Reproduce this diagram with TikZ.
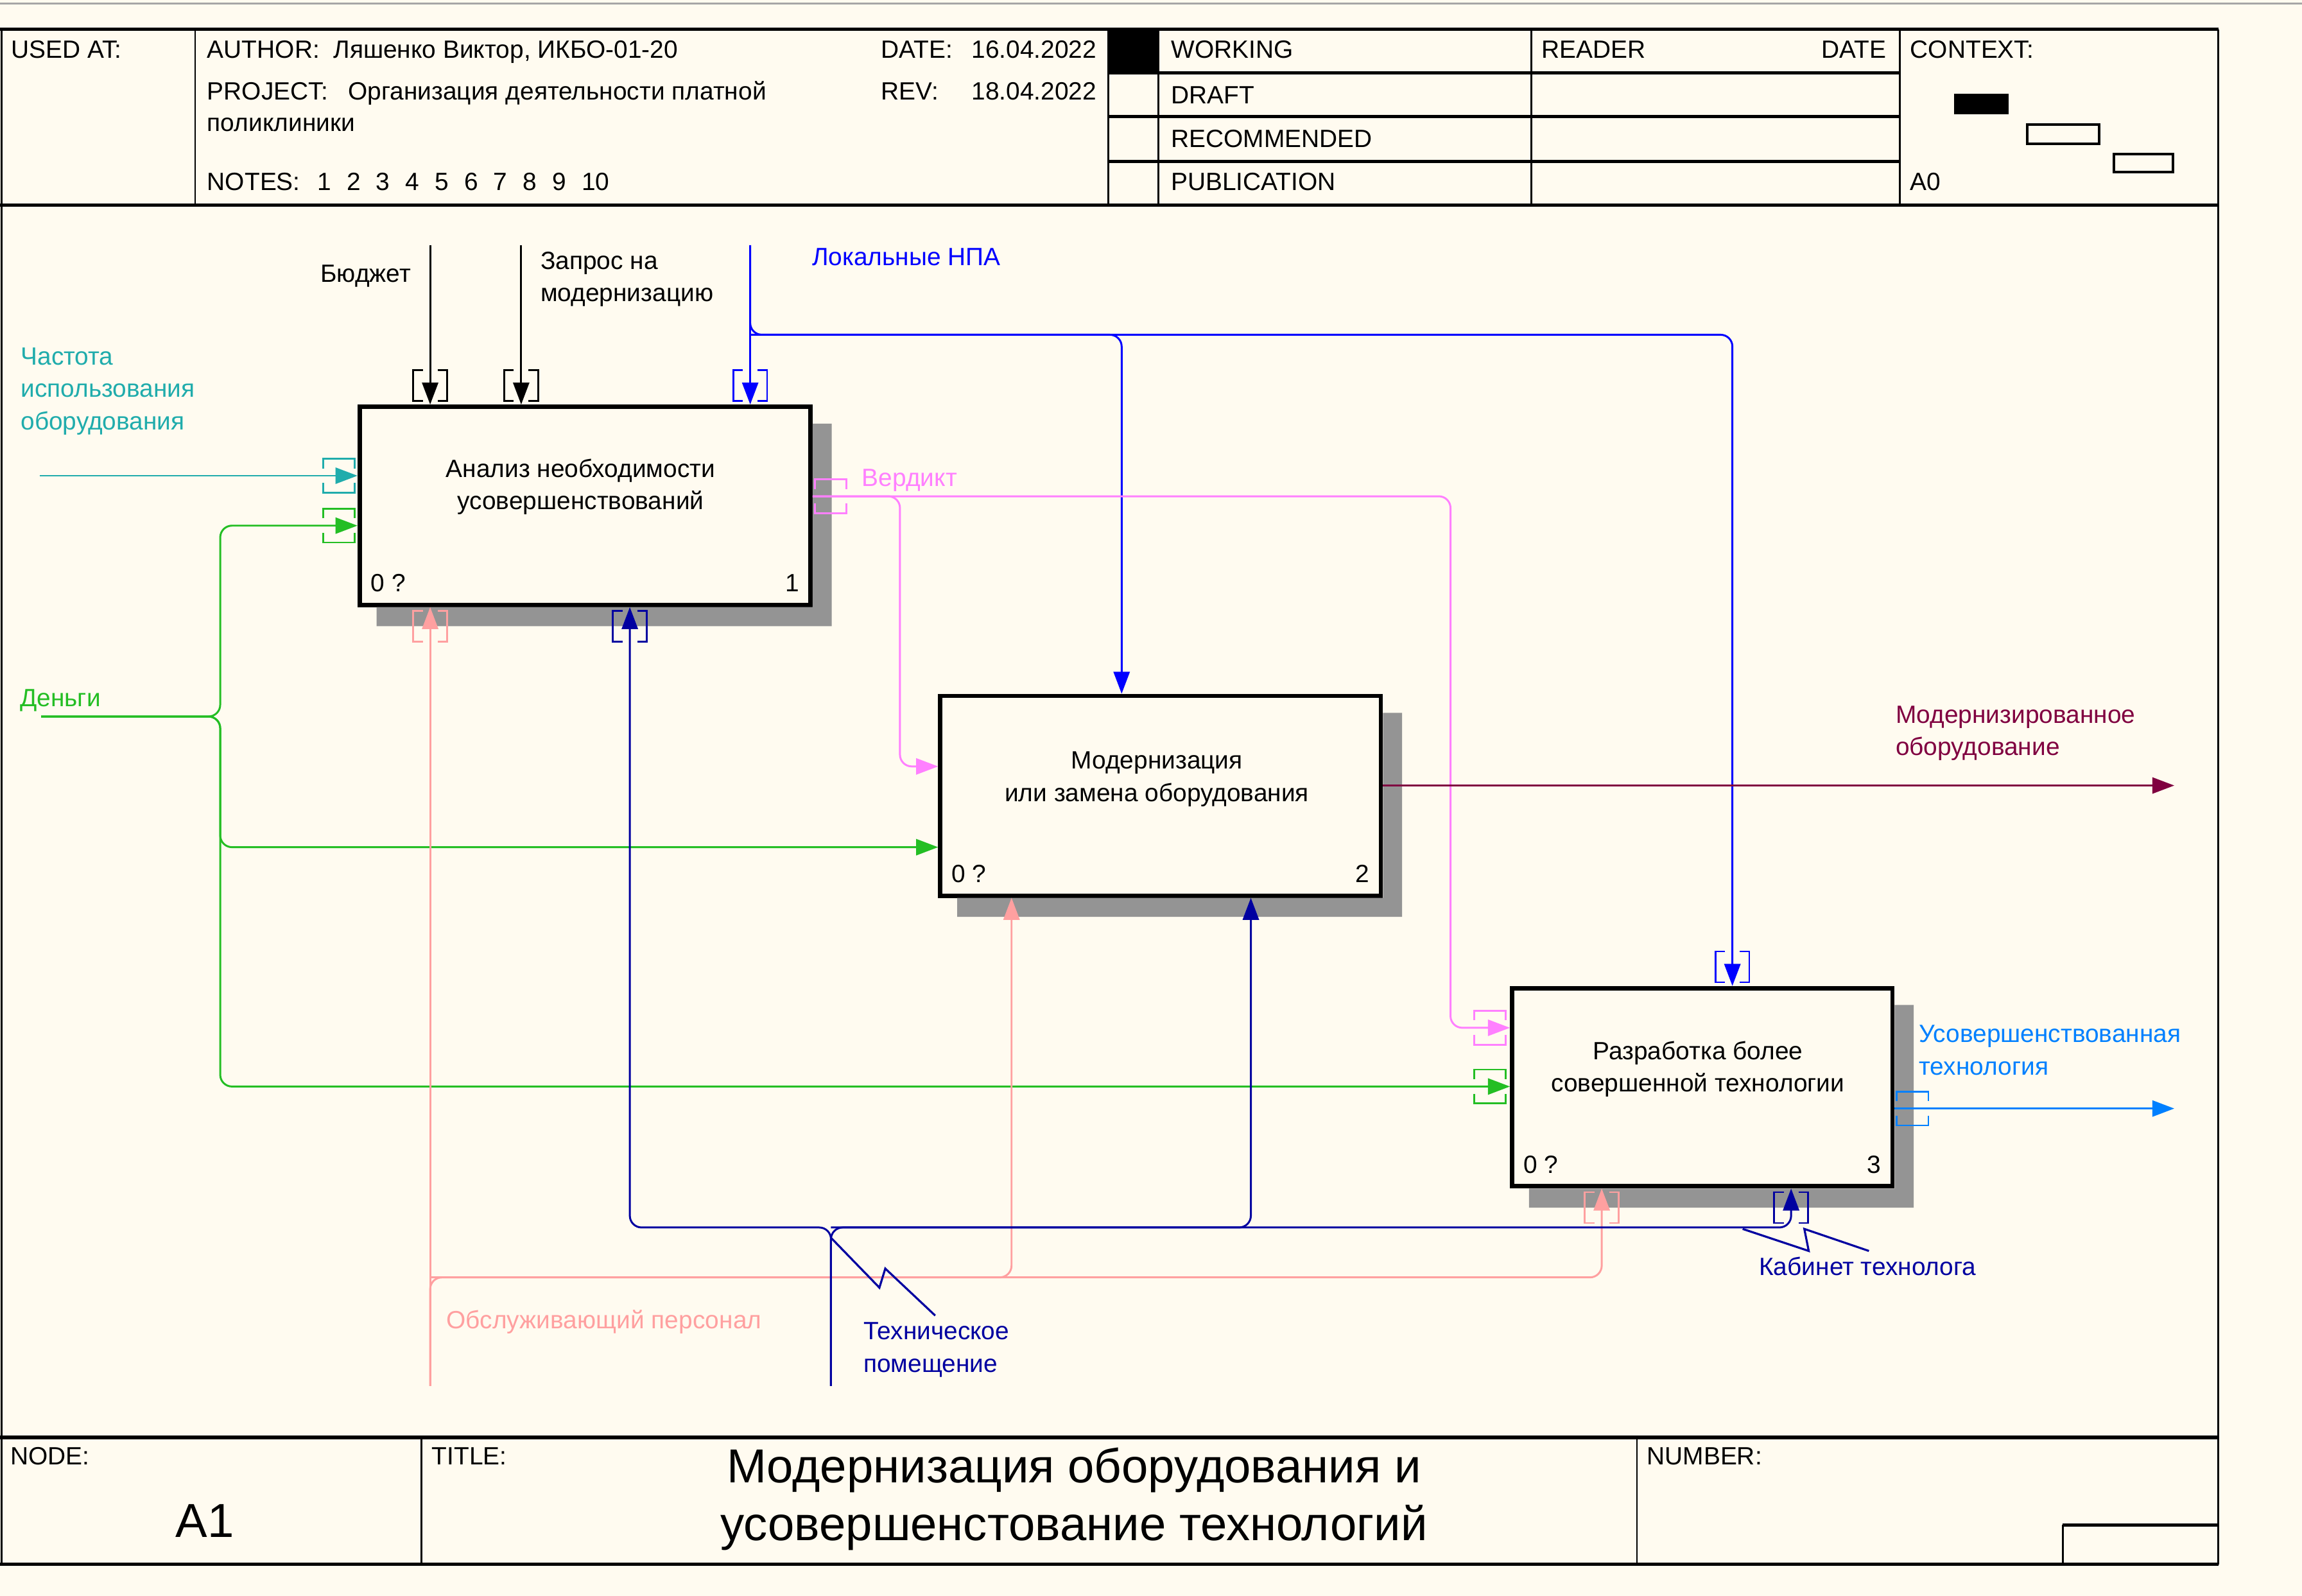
\documentclass[tikz,border=0pt]{standalone}
\usepackage{fontspec}
\setmainfont{Liberation Sans}
\usetikzlibrary{arrows.meta}
\definecolor{paper}{RGB}{255,251,240}
\definecolor{cteal}{RGB}{32,172,172}
\definecolor{cgreen}{RGB}{36,190,36}
\definecolor{cblue}{RGB}{0,0,255}
\definecolor{cviolet}{RGB}{255,128,255}
\definecolor{cmaroon}{RGB}{128,0,64}
\definecolor{cdodger}{RGB}{0,128,255}
\definecolor{csalmon}{RGB}{255,160,160}
\definecolor{cnavy}{RGB}{0,0,160}
\begin{document}
\begin{tikzpicture}[x=1pt, y=-1pt,
	lbl/.style={ font=\fontsize{17}{22}\selectfont, inner sep=0pt, anchor=base west, align=left },
	big/.style={ font=\fontsize{32.5}{39}\selectfont, inner sep=0pt, anchor=base, align=center },
	func/.style={ draw, line width=3pt, fill=paper, inner sep=0pt },
	boxshadow/.style={ fill=black!42 },
	arr/.style={ line width=1.3pt, -{Triangle[length=15pt,width=11pt]} },
	link/.style={ rounded corners=8pt },
	tunnel/.style={ line width=1.2pt },
	squig/.style={ line width=1.4pt },
	rulethick/.style={ line width=2.2pt },
	rulethin/.style={ line width=1.1pt }
]

\fill[paper] (0,0) rectangle (1568,1087);
\useasboundingbox (0,0) rectangle (1568,1087);
\draw[gray!70, line width=1.5pt] (0,2.5) -- (1568,2.5);

% frame
\draw[rulethin] (1,20) -- (1,1065.5);
\draw[rulethin] (1511,20) -- (1511,1065.5);
\foreach \y in {20,139.5,979,1065.5} \draw[rulethick] (0,\y) -- (1511,\y);
\foreach \x in {133,755,789,1043,1294} \draw[rulethin] (\x,20) -- (\x,139.5);
\foreach \y in {49.5,79.5,110} \draw[rulethick] (755,\y) -- (1294,\y);
\fill (755,20) rectangle (789,49.5);
\foreach \x in {287,1115} \draw[rulethin] (\x,979) -- (\x,1065.5);
\draw[rulethin] (1405,1065.5) -- (1405,1038.5);
\draw[rulethick] (1405,1038.5) -- (1511,1038.5);
\fill (1331,64) rectangle (1368,78);
\draw[line width=1.8pt] (1381,85) rectangle (1430,98);
\draw[line width=1.8pt] (1440,105) rectangle (1480,117);

\node[lbl] (usedat) at (7.5,39.7) {USED AT:};
\node[lbl] (author) at (141,39.7) {AUTHOR:};
\node[lbl] (authorname) at (227,39.7) {Ляшенко Виктор, ИКБО-01-20};
\node[lbl] (project) at (141,67.8) {PROJECT:};
\node[lbl] (projectname) at (237,67.8) {Организация деятельности платной};
\node[lbl] (projectname2) at (141,89.6) {поликлиники};
\node[lbl] (date) at (600,39.7) {DATE:};
\node[lbl] (dateval) at (661.6,39.7) {16.04.2022};
\node[lbl] (rev) at (600,67.8) {REV:};
\node[lbl] (revval) at (661.6,67.8) {18.04.2022};
\node[lbl] (notes) at (141,129.8) {NOTES:};
\foreach \n in {1,...,10} \node[lbl] (note\n) at (196+20*\n,129.8) {\n};

\node[lbl] (working) at (797.5,39.7) {WORKING};
\node[lbl] (draft) at (797.5,70.7) {DRAFT};
\node[lbl] (recommended) at (797.5,100.3) {RECOMMENDED};
\node[lbl] (publication) at (797.5,129.7) {PUBLICATION};
\node[lbl] (reader) at (1050,39.7) {READER};
\node[lbl, anchor=base east] (readerdate) at (1285,39.7) {DATE};
\node[lbl] (context) at (1301,39.7) {CONTEXT:};
\node[lbl] (ctxnode) at (1301,129.7) {A0};

\node[lbl] (nodelbl) at (7,997.4) {NODE:};
\node[lbl] (titlelbl) at (294,997.4) {TITLE:};
\node[lbl] (numberlbl) at (1121.6,997.4) {NUMBER:};
\node[big] (nodeno) at (139.5,1047) {A1};
\node[big] (title) at (731.5,1049) {Модернизация оборудования и\\усовершенстование технологий};

% function boxes
\node[func, minimum width=307pt, minimum height=135pt] (b1) at (398.5,344.5) {};
\node[func, minimum width=300pt, minimum height=136pt] (b2) at (790.5,542) {};
\node[func, minimum width=259pt, minimum height=135pt] (b3) at (1159.5,740.5) {};

\foreach \b in {b1,b2,b3}
	\fill[boxshadow] ([shift={(0,13)}]\b.north east) -| ([shift={(13,13)}]\b.south east) -| ([shift={(13,0)}]\b.south west) -- (\b.south east) -- cycle;

\node[lbl, anchor=base, align=center] (b1text) at (395.5,347) {Анализ необходимости\\усовершенствований};
\node[lbl, anchor=base, align=center] (b2text) at (788,545.8) {Модернизация\\или замена оборудования};
\node[lbl, anchor=base, align=center] (b3text) at (1156.5,743.6) {Разработка более\\совершенной технологии};
\foreach \b/\n in {b1/1,b2/2,b3/3} {
	\node[lbl] (\b-cost) at ([shift={(9,-10.5)}]\b.south west) {0 ?};
	\node[lbl, anchor=base east] (\b-num) at ([shift={(-9,-10.5)}]\b.south east) {\n};
}

% controls
\coordinate (budgetin) at (293,167);
\coordinate (requestin) at (355,167);
\coordinate (npain) at (511,167);
\coordinate (npaturn) at (511,228);
\coordinate (npa2) at (764,228);
\coordinate (npa3) at (1180,228);
\draw[arr] (budgetin) -- (budgetin |- b1.north);
\draw[arr] (requestin) -- (requestin |- b1.north);
\draw[arr, cblue] (npain) -- (npain |- b1.north);
\draw[arr, link, cblue] (npain) -- (npaturn) -- (npa3) -- (npa3 |- b3.north);
\draw[arr, link, cblue] (npaturn) -- (npa2) -- (npa2 |- b2.north);

% inputs
\coordinate (freqin) at (27,324);
\draw[arr, cteal] (freqin) -- (freqin -| b1.west);
\coordinate (moneyin) at (28,488);
\coordinate (moneyturn) at (150,488);
\coordinate (money1) at (150,358);
\coordinate (money2) at (150,577);
\coordinate (money3) at (150,740);
\foreach \m/\b in {money1/b1,money2/b2,money3/b3}
	\draw[arr, link, cgreen] (moneyin) -- (moneyturn) -- (\m) -- (\m -| \b.west);

% outputs
\coordinate (verdict1) at (613,338);
\coordinate (verdict1b) at (613,522);
\coordinate (verdict2) at (988,338);
\coordinate (verdict2b) at (988,700);
\draw[arr, link, cviolet] (b1.east |- verdict1) -- (verdict1) -- (verdict1b) -- (verdict1b -| b2.west);
\draw[arr, link, cviolet] (b1.east |- verdict2) -- (verdict2) -- (verdict2b) -- (verdict2b -| b3.west);
\coordinate (modout) at (1481,535);
\draw[arr, cmaroon] (b2.east |- modout) -- (modout);
\coordinate (techout) at (1481,755);
\draw[arr, cdodger] (b3.east |- techout) -- (techout);

% mechanisms
\coordinate (staffin) at (293,944);
\coordinate (staffturn) at (293,870);
\coordinate (staff2) at (689,870);
\coordinate (staff3) at (1091,870);
\draw[arr, csalmon] (staffin) -- (staffin |- b1.south);
\draw[arr, link, csalmon] (staffin) -- (staffturn) -- (staff3) -- (staff3 |- b3.south);
\draw[arr, link, csalmon] (staffturn) -- (staff2) -- (staff2 |- b2.south);

\coordinate (roomin) at (566,944);
\coordinate (roomturn) at (566,836);
\coordinate (room1) at (429,836);
\coordinate (room2) at (852,836);
\coordinate (room3) at (1220,836);
\draw[arr, link, cnavy] (roomin) -- (roomturn) -- (room1) -- (room1 |- b1.south);
\draw[arr, link, cnavy] (roomin) -- (roomturn) -- (room3) -- (room3 |- b3.south);
\draw[arr, link, cnavy] (roomturn) -- (room2) -- (room2 |- b2.south);

% tunnel brackets
\foreach \x/\ya/\c in {293/252/black,355/252/black,511/252/cblue,1180/648/cblue,293/416/csalmon,429/416/cnavy,1091/812/csalmon,1220/812/cnavy}
	\draw[tunnel, \c] (\x-5,\ya) -- (\x-11.5,\ya) -- (\x-11.5,\ya+21) -- (\x-5,\ya+21)
		(\x+5,\ya) -- (\x+11.5,\ya) -- (\x+11.5,\ya+21) -- (\x+5,\ya+21);
\foreach \y/\xa/\c in {324/220/cteal,358/220/cgreen,338/555/cviolet,700/1004/cviolet,740/1004/cgreen,755/1292/cdodger}
	\draw[tunnel, \c] (\xa,\y-5) -- (\xa,\y-11.5) -- (\xa+21.5,\y-11.5) -- (\xa+21.5,\y-5)
		(\xa,\y+5) -- (\xa,\y+11.5) -- (\xa+21.5,\y+11.5) -- (\xa+21.5,\y+5);

% arrow labels
\node[lbl, cteal] (lfreq) at (14,292.6) {Частота\\использования\\оборудования};
\node[lbl, cgreen] (lmoney) at (13.5,481) {Деньги};
\node[lbl, anchor=base east] (lbudget) at (280,192.3) {Бюджет};
\node[lbl] (lrequest) at (368,205.4) {Запрос на\\модернизацию};
\node[lbl, cblue] (lnpa) at (553,180.7) {Локальные НПА};
\node[lbl, cviolet] (lverdict) at (587,331) {Вердикт};
\node[lbl, cmaroon] (lmod) at (1291,514.6) {Модернизированное\\оборудование};
\node[lbl, cdodger] (ltech) at (1307,732) {Усовершенствованная\\технология};
\node[lbl, csalmon] (lstaff) at (304,905) {Обслуживающий персонал};
\node[lbl, cnavy] (lroom) at (588,934.5) {Техническое\\помещение};
\node[lbl, cnavy] (lcab) at (1198,868.4) {Кабинет технолога};

\draw[squig, cnavy] (566,843) -- (599,877) -- (603,864) -- (637,896);
\draw[squig, cnavy] (1187,837) -- (1232,852) -- (1229,837) -- (1273,852);

\end{tikzpicture}
\end{document}
